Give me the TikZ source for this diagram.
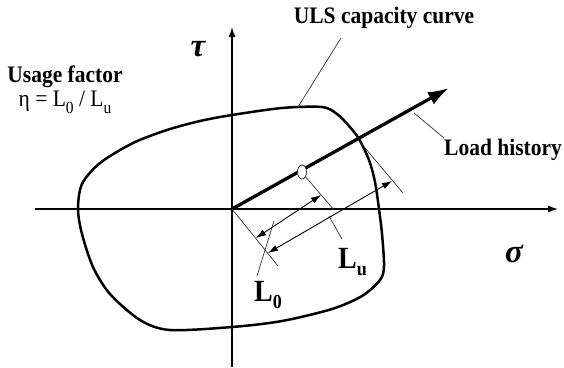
\documentclass[tikz,border=0pt]{standalone}
\usepackage{fontspec}
\setmainfont{Liberation Serif}
\usetikzlibrary{arrows.meta,shapes.geometric}
\newcommand{\tall}[1]{\scalebox{1}[1.1]{#1}}
\begin{document}
\begin{tikzpicture}[x=1pt,y=-1pt,
  axis/.style={line width=1.2pt,-{Latex[length=10pt,width=7pt]}},
  thinline/.style={line width=0.7pt,black!80},
  dimline/.style={line width=0.9pt,{Latex[length=10pt,width=6.5pt]}-{Latex[length=10pt,width=6.5pt]}},
  lbl/.style={font=\fontsize{21.5}{24}\selectfont\bfseries,inner sep=0pt,anchor=base},
  greek/.style={font=\fontsize{33}{36}\selectfont\bfseries\itshape,inner sep=0pt}]
\useasboundingbox (0,0) rectangle (564,367);
% axes
\coordinate (xs) at (35,209);
\coordinate (xe) at (558,209);
\coordinate (ys) at (232,367);
\coordinate (ye) at (232,27);
\draw[axis] (xs) -- (xe);
\draw[axis] (ys) -- (ye);
% capacity curve
\draw[line width=2.5pt,line join=round] plot[smooth cycle,tension=0.5] coordinates {
 (78,209) (82,184) (100,163) (133,143) (167,130) (200,121) (232,115) (282,108) (322,107)
 (337,114) (349,126) (359,139) (369,160) (375,182) (379,209) (382,234) (384,266) (380,280)
 (362,296) (332,309) (282,321) (232,327) (170,330) (140,320) (110,294) (93,267) (82,234)};
% load history
\coordinate (O) at (232,209);
\coordinate (T) at (449,88);
\draw[line width=3.3pt,-{Latex[length=21pt,width=14pt]}] (O) -- (T);
\node[draw,thinline,line width=0.8pt,ellipse,minimum width=9pt,minimum height=14pt,inner sep=0pt,fill=white] (C) at (302,172) {};
% extension lines
\coordinate (E0b) at (278,266);
\coordinate (E1a) at (305,176);
\coordinate (E1b) at (334,210);
\coordinate (E2a) at (360,142);
\coordinate (E2b) at (403,193);
\draw[thinline] (O) -- (E0b);
\draw[thinline] (E1a) -- (E1b);
\draw[thinline] (E2a) -- (E2b);
% dimension lines
\coordinate (A0) at (256,238);
\coordinate (B0) at (321,195);
\coordinate (A1) at (268,253);
\coordinate (B1) at (392,181);
\draw[dimline] (A0) -- (B0);
\draw[dimline] (A1) -- (B1);
% labels
\node[lbl] (usage) at (65,82) {\tall{Usage factor}};
\node[font=\fontsize{21.5}{24}\selectfont,inner sep=0pt,anchor=base] (eta) at (65,106)
  {\tall{η = L\raisebox{-0.3em}{\fontsize{15.5}{15.5}\selectfont 0} / L\raisebox{-0.3em}{\fontsize{15.5}{15.5}\selectfont u}}};
\node[lbl] (uls) at (384,23) {\tall{ULS capacity curve}};
\node[lbl] (load) at (503,155) {\tall{Load history}};
\node[greek] (tau) at (198,49) {τ};
\node[greek] (sigma) at (514,254) {σ};
\node[font=\fontsize{28}{30}\selectfont\bfseries,inner sep=0pt,anchor=base west] (L0) at (254,301)
  {\tall{L\raisebox{-0.25em}{\fontsize{18}{18}\selectfont 0}}};
\node[font=\fontsize{28}{30}\selectfont\bfseries,inner sep=0pt,anchor=base west] (Lu) at (338,268)
  {\tall{L\raisebox{-0.25em}{\fontsize{18}{18}\selectfont u}}};
% leaders
\coordinate (ulsA) at (341,38);
\coordinate (ulsB) at (298,107);
\draw[thinline] (ulsA) -- (ulsB);
\coordinate (ldA) at (414,113);
\coordinate (ldB) at (444,138);
\draw[thinline] (ldA) -- (ldB);
\coordinate (l0A) at (257,276);
\coordinate (l0B) at (274,221);
\draw[thinline] (l0A) -- (l0B);
\coordinate (luA) at (342,239);
\coordinate (luB) at (329,216);
\draw[thinline] (luA) -- (luB);
\end{tikzpicture}
\end{document}
